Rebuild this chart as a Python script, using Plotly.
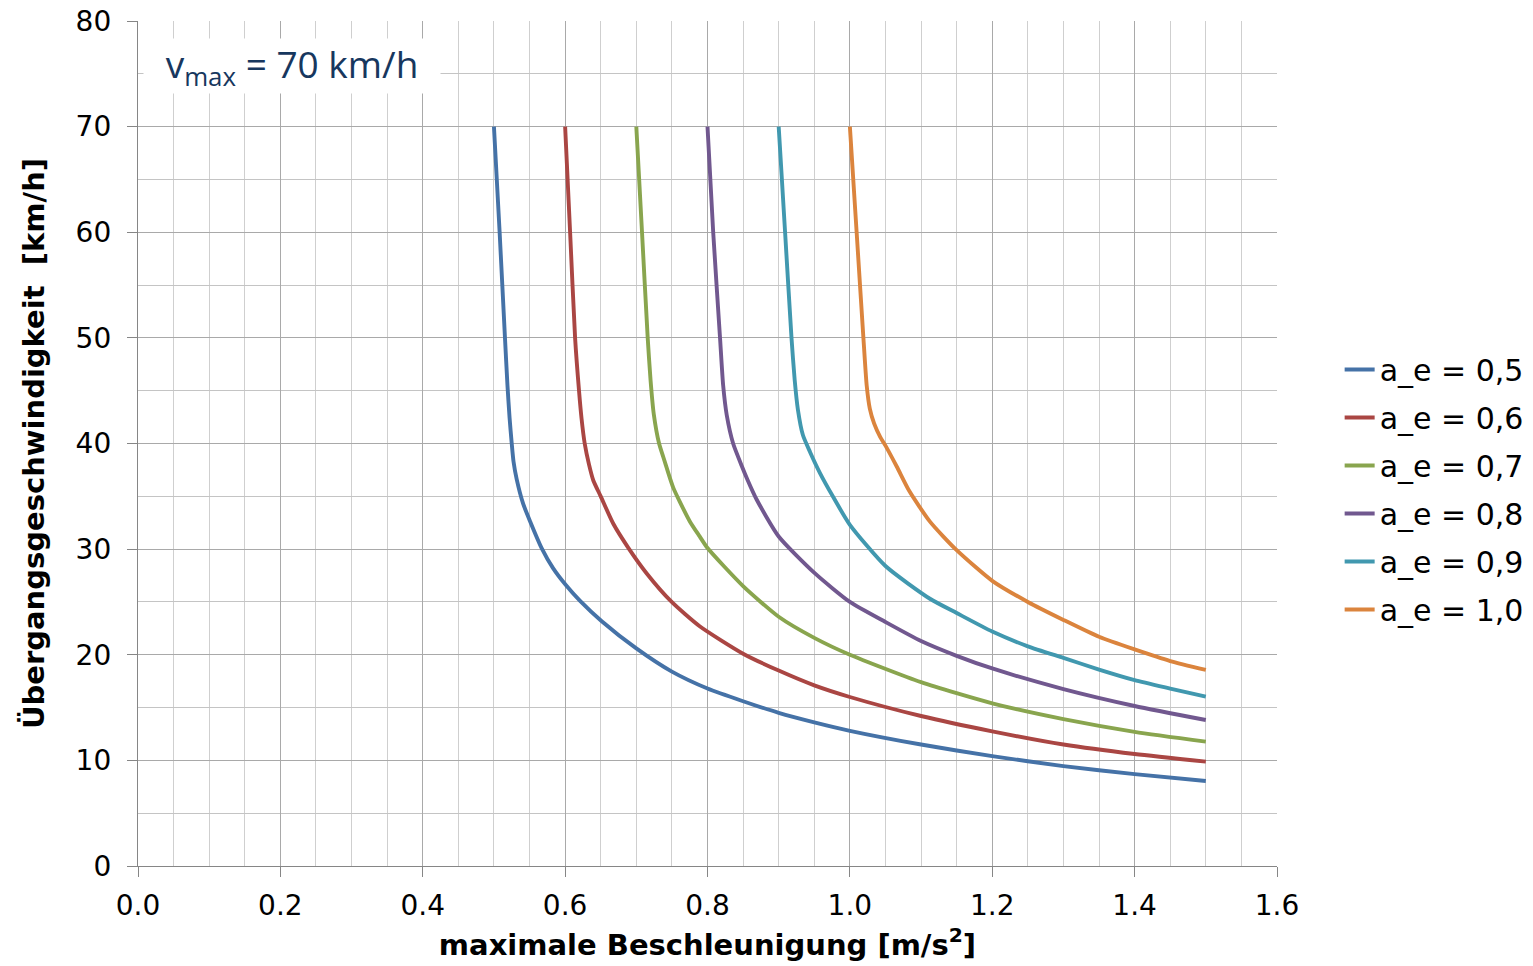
import plotly.graph_objects as go

# ---- data ----
series_names = ["a_e = 0,5", "a_e = 0,6", "a_e = 0,7", "a_e = 0,8", "a_e = 0,9", "a_e = 1,0"]
series_colors = ["#4572A7", "#AA4643", "#89A54E", "#71588F", "#4198AF", "#DB843D"]

x_05 = [0.500, 0.508, 0.5155, 0.519, 0.522, 0.525, 0.5275, 0.532, 0.541, 0.551, 0.567, 0.583,
        0.601, 0.621, 0.651, 0.700, 0.750, 0.800, 0.850, 0.900, 0.950, 1.000, 1.100, 1.200,
        1.300, 1.400, 1.500]
y_05 = [70.0, 60.0, 50.0, 45.5, 42.4, 40.0, 38.3, 36.6, 34.3, 32.6, 30.1, 28.2,
        26.6, 25.1, 23.2, 20.6, 18.4, 16.8, 15.6, 14.5, 13.6, 12.8, 11.5, 10.4,
        9.45, 8.7, 8.05]

x_06 = [0.600, 0.607, 0.614, 0.6195, 0.623, 0.6275, 0.6336, 0.6396, 0.650, 0.6677, 0.689, 0.7146,
        0.7497, 0.789, 0.850, 0.900, 0.950, 1.000, 1.100, 1.200, 1.300, 1.400, 1.500]
y_06 = [70.0, 60.0, 50.0, 45.0, 42.4, 40.0, 38.0, 36.5, 35.0, 32.4, 30.1, 27.7,
        25.0, 22.7, 20.1, 18.5, 17.1, 16.0, 14.2, 12.75, 11.5, 10.6, 9.88]

x_07 = [0.700, 0.708, 0.716, 0.720, 0.7245, 0.732, 0.738, 0.745, 0.752, 0.761, 0.7754, 0.789,
        0.800, 0.850, 0.900, 0.950, 1.000, 1.100, 1.200, 1.300, 1.400, 1.500]
y_07 = [70.0, 60.0, 50.0, 46.0, 42.8, 40.0, 38.7, 37.2, 35.8, 34.5, 32.6, 31.2,
        30.1, 26.5, 23.6, 21.6, 20.0, 17.4, 15.4, 13.9, 12.7, 11.77]

x_08 = [0.800, 0.808, 0.8176, 0.822, 0.827, 0.836, 0.848, 0.856, 0.869, 0.900, 0.951, 1.000,
        1.050, 1.100, 1.150, 1.200, 1.300, 1.400, 1.500]
y_08 = [70.0, 60.0, 50.0, 45.5, 42.7, 40.0, 37.9, 36.6, 34.7, 31.2, 27.7, 25.0,
        23.1, 21.3, 19.9, 18.7, 16.75, 15.15, 13.82]

x_09 = [0.900, 0.909, 0.918, 0.9225, 0.927, 0.934, 0.944, 0.958, 0.976, 1.000, 1.050, 1.1125,
        1.150, 1.200, 1.250, 1.300, 1.350, 1.400, 1.450, 1.500]
y_09 = [70.0, 60.0, 50.0, 46.0, 43.2, 40.8, 39.2, 37.2, 35.0, 32.3, 28.4, 25.3,
        23.95, 22.2, 20.8, 19.7, 18.6, 17.6, 16.8, 16.03]

x_10 = [1.000, 1.0095, 1.019, 1.0236, 1.028, 1.034, 1.0427, 1.050, 1.066, 1.0835, 1.1125, 1.150,
        1.200, 1.250, 1.300, 1.350, 1.400, 1.450, 1.500]
y_10 = [70.0, 60.0, 50.0, 45.5, 43.3, 41.9, 40.6, 39.8, 37.8, 35.5, 32.6, 29.9,
        27.0, 25.0, 23.3, 21.7, 20.5, 19.4, 18.56]

series_x = [x_05, x_06, x_07, x_08, x_09, x_10]
series_y = [y_05, y_06, y_07, y_08, y_09, y_10]

x_title = "maximale Beschleunigung [m/s<sup>2</sup>]"
y_title = "Übergangsgeschwindigkeit\u00a0 [km/h]"
note_text = "v<sub>max</sub> = 70 km/h"

# ---- figure ----
fig = go.Figure()
for name, color, xs, ys in zip(series_names, series_colors, series_x, series_y):
    fig.add_trace(go.Scatter(
        x=xs, y=ys, mode="lines", name=name, legendgroup=name,
        line=dict(color=color, width=3.9, shape="spline", smoothing=0.6),
    ))

base_font = "DejaVu Sans, Verdana, sans-serif"

# figure is a bit wider than the window so the legend never forces a larger right margin
fig.update_layout(
    width=1553, height=966,
    margin=dict(l=138, r=276, t=21, b=100),
    paper_bgcolor="white", plot_bgcolor="white",
    font=dict(family=base_font, size=28, color="#000000"),
    showlegend=True,
    legend=dict(
        x=1.055, xanchor="left", y=0.4455, yanchor="middle",
        font=dict(family=base_font, size=30, color="#000000"),
        tracegroupgap=6, bgcolor="rgba(0,0,0,0)",
    ),
    xaxis=dict(
        range=[0, 1.6], dtick=0.2, tick0=0, tickformat=".1f",
        showgrid=True, gridcolor="#A9A9A9", gridwidth=1,
        minor=dict(dtick=0.05, tick0=0, showgrid=True, gridcolor="#CFCFCF", gridwidth=1),
        showline=True, linecolor="#868686", linewidth=1.3,
        ticks="outside", ticklen=10, tickcolor="#868686",
        zeroline=False, ticklabelstandoff=4, automargin=False,
        ticklabeloverflow="allow",
        tickfont=dict(family=base_font, size=28, color="#000000"),
        title=dict(text=x_title, font=dict(family=base_font, size=29, color="#000000", weight="bold"),
                   standoff=13),
    ),
    yaxis=dict(
        range=[0, 80], dtick=10, tick0=0,
        showgrid=True, gridcolor="#A9A9A9", gridwidth=1,
        minor=dict(dtick=5, tick0=0, showgrid=True, gridcolor="#C4C4C4", gridwidth=1),
        showline=True, linecolor="#868686", linewidth=1.3,
        ticks="outside", ticklen=10, tickcolor="#868686",
        zeroline=False, ticklabelstandoff=10, automargin=False,
        ticklabeloverflow="allow",
        tickfont=dict(family=base_font, size=28, color="#000000"),
        title=dict(text=y_title, font=dict(family=base_font, size=29, color="#000000", weight="bold"),
                   standoff=22),
    ),
    annotations=[dict(
        text=note_text, xref="paper", yref="paper", x=0.135, y=0.947,
        xanchor="center", yanchor="middle", showarrow=False,
        font=dict(family="Open Sans, sans-serif", size=37, color="#17375E"),
        bgcolor="white", width=294, height=52, align="center",
    )],
)

fig.write_html("out.html", config={"displayModeBar": False},
               post_script="document.body.style.margin='0px';")
